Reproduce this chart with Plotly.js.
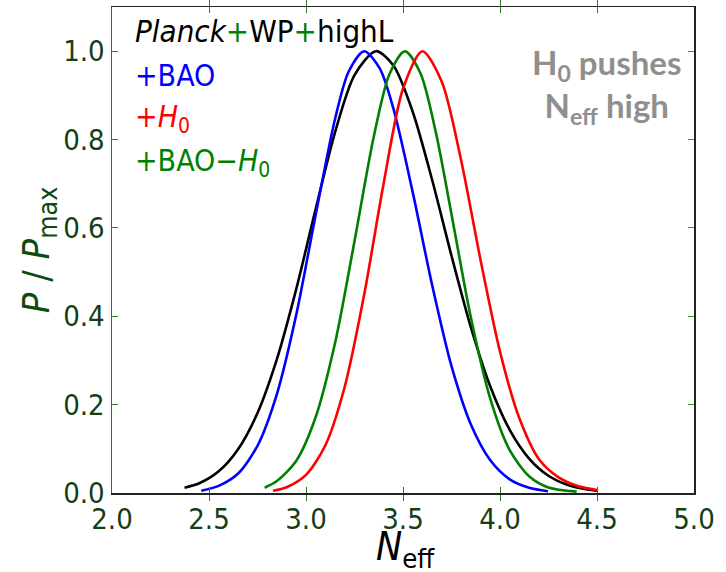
<!DOCTYPE html>
<html>
<head>
<meta charset="utf-8">
<script src="https://cdn.plot.ly/plotly-3.0.1.min.js"></script>
<style>html,body{margin:0;padding:0;background:#fff}#chart{width:726px;height:572px}</style>
</head>
<body>
<div id="chart"></div>
<script>
// Data (N_eff vs P/Pmax)
const blackX = [2.374,2.45,2.55,2.65,2.75,2.85,2.95,3.05,3.15,3.25,3.36,3.45,3.55,3.65,3.75,3.85,3.95,4.05,4.15,4.25,4.35,4.45,4.505];
const blackY = [0.012,0.022,0.049,0.099,0.181,0.303,0.462,0.643,0.817,0.946,1.0,0.968,0.863,0.709,0.537,0.375,0.241,0.143,0.078,0.039,0.018,0.008,0.005];

const blueX = [2.46,2.55,2.65,2.75,2.85,2.95,3.05,3.15,3.22,3.30,3.38,3.45,3.55,3.65,3.75,3.85,3.95,4.05,4.15,4.247];
const blueY = [0.005,0.016,0.044,0.107,0.224,0.404,0.630,0.847,0.954,1.0,0.961,0.871,0.681,0.471,0.287,0.155,0.074,0.031,0.012,0.004];

const redX = [2.83,2.9,3.0,3.1,3.2,3.3,3.4,3.5,3.6,3.7,3.8,3.9,4.0,4.1,4.2,4.3,4.4,4.5];
const redY = [0.005,0.013,0.041,0.108,0.241,0.449,0.700,0.915,1.0,0.931,0.752,0.527,0.320,0.169,0.077,0.036,0.016,0.007];

const greenX = [2.787,2.85,2.95,3.05,3.15,3.25,3.35,3.43,3.51,3.59,3.67,3.75,3.85,3.95,4.05,4.15,4.25,4.395];
const greenY = [0.012,0.027,0.073,0.172,0.340,0.570,0.808,0.948,1.0,0.950,0.815,0.631,0.397,0.213,0.097,0.038,0.0125,0.003];

const xTicks = [2.0,2.5,3.0,3.5,4.0,4.5,5.0];
const yTicks = [0.0,0.2,0.4,0.6,0.8,1.0];

const legendLines = [
  '<i>Planck</i><span style="color:#008000">+</span>WP<span style="color:#008000">+</span>highL',
  '+BAO',
  '+<i>H</i><sub>0</sub>',
  '+BAO\u2212<i>H</i><sub>0</sub>'
];
const legendColors = ['#000000','#0000ff','#ff0000','#008000'];
const legendSizes = [31, 30, 30, 30];

const FONT = '"Liberation Sans Narrow", "DejaVu Sans Condensed", "Liberation Sans", sans-serif';
const TICKCOL = '#143f14';

function tr(x, y, c) {
  return {x: x, y: y, type: 'scatter', mode: 'lines',
    line: {color: c, width: 2.6, shape: 'spline', smoothing: 0.8},
    hoverinfo: 'skip', showlegend: false};
}

const traces = [
  tr(blackX, blackY, '#000000'),
  tr(blueX, blueY, '#0000ff'),
  tr(greenX, greenY, '#008000'),
  tr(redX, redY, '#ff0000'),
  {x: [2, 5], y: [0, 0], yaxis: 'y2', type: 'scatter', mode: 'lines', line: {width: 0}, hoverinfo: 'skip', showlegend: false}
];

const pxX = p => (p - 112) / 582;
const pxY = p => (493 - p) / 486;

const legYs = [31, 75, 118, 162];
const annotations = legendLines.map((t, i) => ({
  text: t, xref: 'paper', yref: 'paper', x: pxX(133), y: pxY(legYs[i]),
  xanchor: 'left', yanchor: 'middle', showarrow: false,
  font: {family: FONT, size: legendSizes[i], color: legendColors[i]}
}));
annotations.push({
  text: 'H<sub>0</sub> pushes<br>N<sub>eff</sub> high', xref: 'paper', yref: 'paper',
  x: pxX(606), y: pxY(86), xanchor: 'center', yanchor: 'middle', align: 'center',
  showarrow: false, font: {family: 'Lato, "Open Sans", sans-serif', size: 33, color: '#8f8f8f', weight: 'bold'}
});
// x-axis title
annotations.push({
  text: '<i>N</i><sub>eff</sub>', xref: 'paper', yref: 'paper',
  x: pxX(405), y: pxY(549), xanchor: 'center', yanchor: 'middle',
  showarrow: false, font: {family: FONT, size: 39, color: '#000'}
});

const layout = {
  width: 726, height: 572,
  margin: {l: 112, r: 32, t: 7, b: 79, pad: 0},
  paper_bgcolor: '#ffffff', plot_bgcolor: '#ffffff',
  showlegend: false,
  xaxis: {
    range: [2, 5], tickvals: xTicks, ticktext: xTicks.map(v => v.toFixed(1)),
    ticks: 'inside', ticklen: 6, tickwidth: 1, tickcolor: '#2a7a2a',
    showline: true, linecolor: '#222', linewidth: 1.5, mirror: 'allticks',
    showgrid: false, zeroline: false,
    tickfont: {family: FONT, size: 29, color: TICKCOL}
  },
  yaxis: {
    range: [0, 1.1], tickvals: yTicks, ticktext: yTicks.map(v => v.toFixed(1)),
    ticks: 'inside', ticklen: 6, tickwidth: 1, tickcolor: '#2a7a2a',
    showline: true, linecolor: '#1f7a1f', linewidth: 1.5, mirror: false,
    showgrid: false, zeroline: false,
    tickfont: {family: FONT, size: 29, color: TICKCOL},
    title: {text: '<i>P</i> / <i>P</i><sub>max</sub>', font: {family: FONT, size: 38, color: '#0f4a0f'}, standoff: 2}
  },
  yaxis2: {
    range: [0, 1.1], tickvals: yTicks, overlaying: 'y', side: 'right',
    ticks: 'inside', ticklen: 6, tickwidth: 1, tickcolor: '#2a9a2a',
    showline: true, linecolor: '#222', linewidth: 1.5,
    showticklabels: false, showgrid: false, zeroline: false
  },
  annotations: annotations
};

Plotly.newPlot('chart', traces, layout, {staticPlot: true, displayModeBar: false});
</script>
</body>
</html>
